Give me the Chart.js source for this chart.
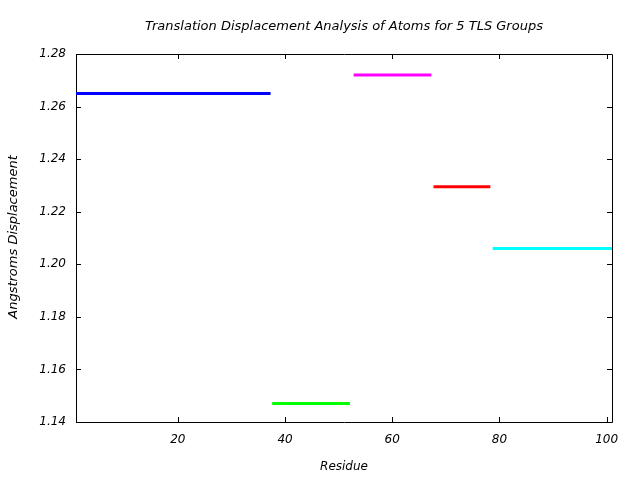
<!DOCTYPE html>
<html>
<head>
<meta charset="utf-8">
<script src="https://cdn.jsdelivr.net/npm/chart.js@4.4.0/dist/chart.umd.min.js"></script>
<style>
  html, body { margin: 0; padding: 0; background: #fff; }
  #c { display: block; }
</style>
</head>
<body>
<canvas id="c" width="640" height="480"></canvas>
<script>
// TLS groups: residue range and displacement
const groupStart = [1, 37.6, 52.8, 67.7, 78.75];
const groupEnd = [37.3, 52.1, 67.3, 78.3, 101];
const displacement = [1.265, 1.147, 1.272, 1.2295, 1.206];
const xTicks = [20, 40, 60, 80, 100];
const yTicks = [1.14, 1.16, 1.18, 1.20, 1.22, 1.24, 1.26, 1.28];

const groupColors = ["#0000ff", "#00ff00", "#ff00ff", "#ff0000", "#00ffff"];
const FONT = "DejaVu Sans";

const datasets = groupStart.map((s, i) => ({
  label: "Group " + (i + 1),
  data: [{ x: s, y: displacement[i] }, { x: groupEnd[i], y: displacement[i] }],
  borderColor: groupColors[i],
  backgroundColor: groupColors[i],
  borderWidth: 3,
  pointRadius: 0,
  showLine: true,
  clip: false
}));

// frame, inward ticks and titles
const framePlugin = {
  id: "frame",
  beforeDatasetsDraw(chart) {
    const { ctx, chartArea: a, scales } = chart;
    ctx.save();
    ctx.strokeStyle = "#000";
    ctx.lineWidth = 1;
    ctx.beginPath();
    ctx.rect(a.left + 0.5, a.top + 0.5, a.right - a.left, a.bottom - a.top);
    xTicks.forEach(v => {
      const px = Math.round(scales.x.getPixelForValue(v)) + 0.5;
      ctx.moveTo(px, a.bottom); ctx.lineTo(px, a.bottom - 5);
      ctx.moveTo(px, a.top); ctx.lineTo(px, a.top + 5);
    });
    yTicks.forEach(v => {
      const py = Math.round(scales.y.getPixelForValue(v)) + 0.5;
      ctx.moveTo(a.left, py); ctx.lineTo(a.left + 5, py);
      ctx.moveTo(a.right, py); ctx.lineTo(a.right - 5, py);
    });
    ctx.stroke();
    ctx.restore();
  },
  afterDraw(chart) {
    const { ctx, chartArea: a } = chart;
    const cx = (a.left + a.right) / 2;
    ctx.save();
    ctx.fillStyle = "#000";
    ctx.textAlign = "center";
    ctx.textBaseline = "middle";
    ctx.font = "italic 13px '" + FONT + "'";
    ctx.fillText("Translation Displacement Analysis of Atoms for 5 TLS Groups", cx, 27);
    ctx.font = "italic 12px '" + FONT + "'";
    ctx.fillText("Residue", cx, 467);
    ctx.font = "italic 13px '" + FONT + "'";
    ctx.translate(14, (a.top + a.bottom) / 2 - 1);
    ctx.rotate(-Math.PI / 2);
    ctx.fillText("Angstroms Displacement", 0, 0);
    ctx.restore();
  }
};

new Chart(document.getElementById("c"), {
  type: "scatter",
  data: { datasets },
  options: {
    responsive: false,
    animation: false,
    layout: { padding: { top: 54, right: 28, left: 0, bottom: 0 } },
    plugins: { legend: { display: false }, title: { display: false }, tooltip: { enabled: false } },
    scales: {
      x: {
        type: "linear",
        min: 1,
        max: 101,
        afterBuildTicks: s => { s.ticks = xTicks.map(v => ({ value: v })); },
        afterFit: s => { s.height = 58; },
        grid: { display: false, drawTicks: false },
        border: { display: false },
        ticks: { color: "#000", padding: 11, maxRotation: 0, font: { family: FONT, size: 12, style: "italic" } }
      },
      y: {
        type: "linear",
        min: 1.14,
        max: 1.28,
        afterBuildTicks: s => { s.ticks = yTicks.map(v => ({ value: v })); },
        afterFit: s => { s.width = 76; },
        grid: { display: false, drawTicks: false },
        border: { display: false },
        ticks: {
          color: "#000", padding: 10,
          font: { family: FONT, size: 12, style: "italic" },
          callback: v => Number(v).toFixed(2)
        }
      }
    }
  },
  plugins: [framePlugin]
});
</script>
</body>
</html>
